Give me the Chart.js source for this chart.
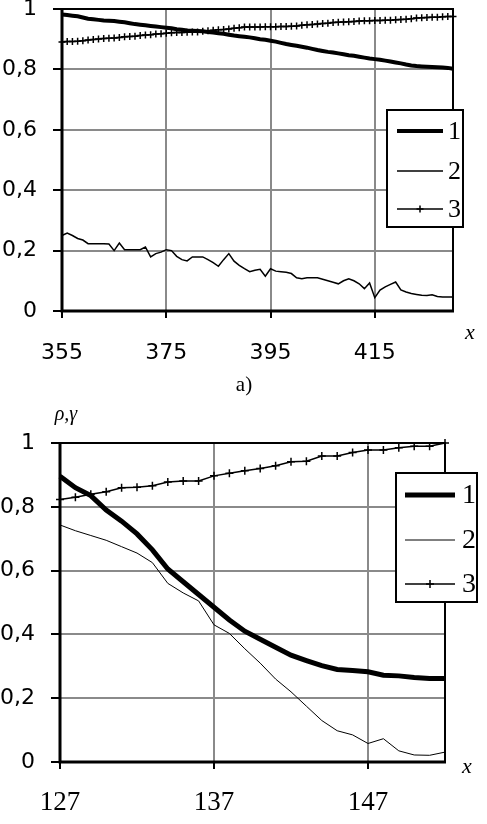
<!DOCTYPE html>
<html>
<head>
<meta charset="utf-8">
<script src="https://cdn.jsdelivr.net/npm/chart.js@4.4.1/dist/chart.umd.min.js"></script>
<style>
  body { margin: 0; background: #fff; }
  #wrap { position: relative; width: 487px; height: 824px; }
  canvas { position: absolute; left: 0; }
  #chartA { top: 0; }
  #chartB { top: 400px; }
</style>
</head>
<body>
<div id="wrap">
  <canvas id="chartA" width="487" height="400"></canvas>
  <canvas id="chartB" width="487" height="424"></canvas>
</div>
<script>
// ---- data, chart a) ----
const xA = [355, 356, 357, 358, 359, 360, 361, 362, 363, 364, 365, 366, 367, 368, 369, 370, 371, 372, 373, 374,
  375, 376, 377, 378, 379, 380, 381, 382, 383, 384, 385, 386, 387, 388, 389, 390, 391, 392, 393, 394,
  395, 396, 397, 398, 399, 400, 401, 402, 403, 404, 405, 406, 407, 408, 409, 410, 411, 412, 413, 414,
  415, 416, 417, 418, 419, 420, 421, 422, 423, 424, 425, 426, 427, 428, 429, 430];
const s1A = [0.982, 0.98, 0.978, 0.976, 0.972, 0.968, 0.966, 0.964, 0.962, 0.961, 0.96, 0.958, 0.956, 0.953, 0.95, 0.948, 0.946, 0.944, 0.942, 0.94,
  0.938, 0.936, 0.933, 0.931, 0.929, 0.928, 0.927, 0.926, 0.924, 0.922, 0.92, 0.918, 0.915, 0.912, 0.91, 0.908, 0.906, 0.903, 0.9, 0.898,
  0.895, 0.892, 0.888, 0.884, 0.881, 0.878, 0.875, 0.872, 0.868, 0.864, 0.861, 0.858, 0.856, 0.853, 0.85, 0.847, 0.845, 0.842, 0.839, 0.836,
  0.834, 0.832, 0.829, 0.826, 0.823, 0.82, 0.816, 0.813, 0.811, 0.81, 0.809, 0.808, 0.807, 0.806, 0.805, 0.802];
const s2A = [0.25, 0.258, 0.25, 0.24, 0.235, 0.223, 0.223, 0.223, 0.223, 0.222, 0.2, 0.225, 0.203, 0.203, 0.203, 0.203, 0.212, 0.179, 0.19, 0.195,
  0.203, 0.2, 0.181, 0.17, 0.166, 0.179, 0.179, 0.179, 0.17, 0.16, 0.148, 0.17, 0.19, 0.165, 0.151, 0.14, 0.13, 0.135, 0.138, 0.115,
  0.14, 0.132, 0.13, 0.128, 0.124, 0.11, 0.107, 0.11, 0.11, 0.11, 0.105, 0.1, 0.095, 0.09, 0.1, 0.107, 0.1, 0.09, 0.074, 0.093,
  0.044, 0.069, 0.08, 0.088, 0.096, 0.07, 0.063, 0.058, 0.055, 0.052, 0.051, 0.054, 0.048, 0.046, 0.046, 0.046];
const s3A = [0.891, 0.892, 0.892, 0.893, 0.895, 0.897, 0.899, 0.901, 0.902, 0.903, 0.904, 0.906, 0.908, 0.909, 0.91, 0.912, 0.914, 0.915, 0.917, 0.918,
  0.92, 0.921, 0.922, 0.922, 0.923, 0.924, 0.924, 0.926, 0.928, 0.93, 0.931, 0.932, 0.934, 0.936, 0.938, 0.94, 0.94, 0.94, 0.94, 0.941,
  0.941, 0.941, 0.942, 0.942, 0.943, 0.944, 0.946, 0.948, 0.949, 0.95, 0.952, 0.953, 0.955, 0.956, 0.957, 0.958, 0.959, 0.96, 0.961, 0.961,
  0.962, 0.962, 0.963, 0.963, 0.964, 0.965, 0.966, 0.968, 0.97, 0.971, 0.972, 0.973, 0.973, 0.974, 0.975, 0.975];
const xTicksA = [355, 375, 395, 415];

// ---- data, lower chart ----
const xB = [127, 128, 129, 130, 131, 132, 133, 134, 135, 136, 137, 138, 139, 140, 141, 142, 143, 144, 145, 146, 147, 148, 149, 150, 151, 152];
const s1B = [0.896, 0.86, 0.835, 0.79, 0.755, 0.715, 0.665, 0.605, 0.565, 0.525, 0.485, 0.445, 0.41, 0.385, 0.36, 0.335, 0.318, 0.302, 0.29, 0.287, 0.283, 0.272, 0.27, 0.265, 0.262, 0.262];
const s2B = [0.743, 0.725, 0.71, 0.695, 0.675, 0.655, 0.625, 0.56, 0.53, 0.505, 0.43, 0.403, 0.355, 0.31, 0.26, 0.22, 0.175, 0.13, 0.098, 0.085, 0.058, 0.073, 0.035, 0.022, 0.021, 0.031];
const s3B = [0.823, 0.83, 0.839, 0.847, 0.86, 0.861, 0.866, 0.878, 0.881, 0.881, 0.897, 0.905, 0.913, 0.92, 0.929, 0.941, 0.943, 0.959, 0.959, 0.97, 0.978, 0.978, 0.985, 0.99, 0.99, 1.0];
const xTicksB = [127, 137, 147];

const yTicks = [0, 0.2, 0.4, 0.6, 0.8, 1];
const seriesNames = ['1', '2', '3'];

function toPoints(xs, ys) {
    return xs.map((x, i) => ({ x: x, y: ys[i] }));
}

function fmtComma(v) {
    return String(Math.round(v * 10) / 10).replace('.', ',');
}

// frame round the plot, legend box and loose labels
const framePlugin = {
    id: 'frameLegend',
    beforeDatasetsDraw(chart, args, opts) {
        const { ctx, chartArea: a } = chart;
        ctx.save();
        ctx.strokeStyle = '#000';
        ctx.lineWidth = 2;
        ctx.strokeRect(a.left, a.top, a.right - a.left, a.bottom - a.top);
        ctx.lineWidth = 3;
        ctx.beginPath();
        ctx.moveTo(a.left, a.top - 1);
        ctx.lineTo(a.left, a.bottom);
        ctx.lineTo(a.right + 1, a.bottom);
        ctx.stroke();
        ctx.restore();
    },
    afterDraw(chart, args, opts) {
        const ctx = chart.ctx;
        const b = opts.box;
        ctx.save();
        ctx.fillStyle = '#fff';
        ctx.fillRect(b[0], b[1], b[2], b[3]);
        chart.data.datasets.forEach((ds, i) => {
            const y = opts.rows[i];
            ctx.strokeStyle = '#000';
            ctx.lineWidth = ds.borderWidth;
            ctx.beginPath();
            ctx.moveTo(opts.lineX[0], y);
            ctx.lineTo(opts.lineX[1], y);
            ctx.stroke();
            if (ds.pointRadius > 0) {
                const mx = (opts.lineX[0] + opts.lineX[1]) / 2;
                const r = ds.pointRadius;
                ctx.lineWidth = ds.pointBorderWidth;
                ctx.beginPath();
                ctx.moveTo(mx, y - r);
                ctx.lineTo(mx, y + r);
                ctx.moveTo(mx - r, y);
                ctx.lineTo(mx + r, y);
                ctx.stroke();
            }
            ctx.fillStyle = '#000';
            ctx.font = opts.font;
            ctx.textBaseline = 'middle';
            ctx.textAlign = 'left';
            ctx.fillText(ds.label, opts.textX, y + 1);
        });
        // border last, it runs over the labels like in the original
        ctx.strokeStyle = '#000';
        ctx.lineWidth = 2;
        ctx.strokeRect(b[0], b[1], b[2], b[3]);
        opts.texts.forEach(t => {
            ctx.font = t.font;
            ctx.textAlign = 'center';
            ctx.textBaseline = 'middle';
            ctx.fillText(t.text, t.x, t.y);
        });
        ctx.restore();
    }
};

function makeDatasets(xs, s1, s2, s3, thick, thin, crossR) {
    return [
        { label: seriesNames[0], data: toPoints(xs, s1), borderColor: '#000', borderWidth: thick, pointRadius: 0 },
        { label: seriesNames[1], data: toPoints(xs, s2), borderColor: '#000', borderWidth: thin, pointRadius: 0 },
        { label: seriesNames[2], data: toPoints(xs, s3), borderColor: '#000', borderWidth: 1.5,
          pointStyle: 'cross', pointRadius: crossR, pointBorderWidth: 1.5, pointBorderColor: '#000', pointHoverRadius: crossR }
    ];
}

function makeScales(xMin, xMax, xTicks, xFont, xPad, xHeight, yFont, yWidth) {
    return {
        x: {
            type: 'linear', min: xMin, max: xMax,
            afterBuildTicks: s => { s.ticks = xTicks.map(v => ({ value: v })); },
            afterFit: s => { s.height = xHeight; s.paddingLeft = 0; s.paddingRight = 0; },
            border: { display: false },
            grid: {
                color: c => (c.tick && c.tick.value === xMin) ? 'rgba(0,0,0,0)' : '#8a8a8a',
                lineWidth: 2, tickColor: '#000', tickWidth: 2, tickLength: 7
            },
            ticks: { font: xFont, color: '#000', padding: xPad, maxRotation: 0, autoSkip: false }
        },
        y: {
            min: 0, max: 1,
            afterBuildTicks: s => { s.ticks = yTicks.map(v => ({ value: v })); },
            afterFit: s => { s.width = yWidth; s.paddingTop = 0; s.paddingBottom = 0; },
            border: { display: false },
            grid: {
                color: c => (c.tick && (c.tick.value === 0 || c.tick.value === 1)) ? 'rgba(0,0,0,0)' : '#8a8a8a',
                lineWidth: 2, tickColor: '#000', tickWidth: 2, tickLength: 9
            },
            ticks: { font: yFont, color: '#000', padding: 16, callback: v => fmtComma(v) }
        }
    };
}

const sansY = { family: 'DejaVu Sans', size: 22 };

new Chart(document.getElementById('chartA'), {
    type: 'line',
    data: { datasets: makeDatasets(xA, s1A, s2A, s3A, 4, 1.5, 3.5) },
    options: {
        responsive: false, animation: false, devicePixelRatio: 1,
        layout: { padding: { left: 0, right: 34, top: 9, bottom: 0 } },
        elements: { line: { tension: 0 } },
        datasets: { line: { clip: false } },
        plugins: {
            legend: { display: false }, tooltip: { enabled: false },
            frameLegend: {
                box: [387, 110, 76, 117], rows: [131, 171, 209], lineX: [397, 443], textX: 448,
                font: '26px "Liberation Serif"',
                texts: [
                    { text: 'x', x: 470, y: 333, font: 'italic 22px "Liberation Serif"' },
                    { text: 'a)', x: 244, y: 385, font: '21px "Liberation Serif"' }
                ]
            }
        },
        scales: makeScales(355, 430, xTicksA, sansY, 22, 89, sansY, 62)
    },
    plugins: [framePlugin]
});

new Chart(document.getElementById('chartB'), {
    type: 'line',
    data: { datasets: makeDatasets(xB, s1B, s2B, s3B, 5, 1, 4) },
    options: {
        responsive: false, animation: false, devicePixelRatio: 1,
        layout: { padding: { left: 0, right: 42, top: 43, bottom: 0 } },
        elements: { line: { tension: 0 } },
        datasets: { line: { clip: false } },
        plugins: {
            legend: { display: false }, tooltip: { enabled: false },
            frameLegend: {
                box: [396, 73, 81, 129], rows: [95, 140, 184], lineX: [405, 455], textX: 462,
                font: '28px "Liberation Serif"',
                texts: [
                    { text: 'x', x: 467, y: 367, font: 'italic 22px "Liberation Serif"' },
                    { text: 'ρ,γ', x: 66, y: 15, font: 'italic 20px "Liberation Serif"' }
                ]
            }
        },
        scales: makeScales(127, 152, xTicksB, { family: 'Liberation Serif', size: 27 }, 18, 62, sansY, 60)
    },
    plugins: [framePlugin]
});
</script>
</body>
</html>
